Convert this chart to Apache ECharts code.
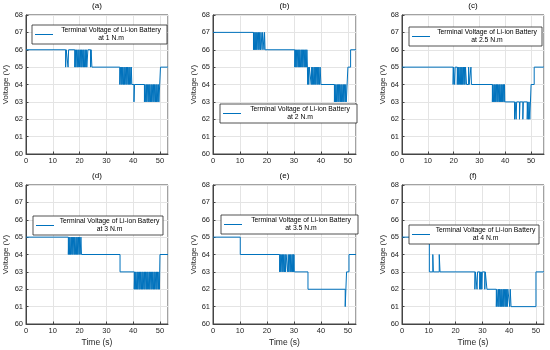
<!DOCTYPE html>
<html>
<head>
<meta charset="utf-8">
<script src="https://cdn.jsdelivr.net/npm/echarts@6/dist/echarts.min.js"></script>
<style>html,body{margin:0;padding:0;background:#fff}#c{width:550px;height:350px}</style>
</head>
<body>
<div id="c"></div>
<script>
// [time (s), voltage (V)] change points, value held until next point
const panelA = [[0,66],[14.8,65],[15.0,66],[15.7,65],[15.9,66],
 [18.2,65],[18.4,66],[18.6,65],[18.9,66],[19.1,65],[19.4,66],[19.5,65],[19.8,66],[20.0,65],[20.3,66],[20.5,65],[20.7,66],[20.9,65],[21.2,66],[21.4,65],[21.6,66],[21.8,65],[22.1,66],[22.3,65],[22.5,66],[22.7,65],[23.1,66],
 [24.1,65],[24.3,66],[24.6,65],
 [35.0,64],[35.2,65],[35.5,64],[35.7,65],[35.9,64],[36.1,65],[36.4,64],[36.6,65],[36.8,64],[37.0,65],[37.3,64],[37.5,65],[37.7,64],[37.9,65],[38.2,64],[38.4,65],[38.6,64],[38.8,65],[39.1,64],[39.3,65],[39.5,64],
 [40.3,63],[40.5,64],
 [44.2,63],[44.4,64],[44.7,63],[44.9,64],[45.1,63],[45.3,64],[45.6,63],[45.8,64],[46.0,63],[46.2,64],[46.5,63],[46.7,64],[46.9,63],[47.1,64],[47.4,63],[47.6,64],[47.8,63],[48.0,64],[48.3,63],[48.5,64],[48.7,63],[48.9,64],[49.2,63],[49.4,64],[49.6,63],
 [50.2,65],[53,65]];
const panelB = [[0,67],[15.0,66],[15.2,67],[15.4,66],[15.6,67],[15.8,66],[16.0,67],[16.2,66],[16.4,67],[16.7,66],[16.9,67],[17.1,66],[17.3,67],[17.6,66],[17.8,67],[18.2,66],[18.4,67],[18.9,66],[19.1,67],[19.3,66],
 [30.3,65],[30.5,66],[30.7,65],[30.9,66],[31.1,65],[31.4,66],[31.6,65],[31.8,66],[32.0,65],[32.2,66],[32.4,65],[32.7,66],[32.9,65],[33.1,66],[33.3,65],[33.5,66],[33.8,65],[34.0,66],[34.2,65],[34.4,66],[34.6,65],[34.8,66],[35.0,65],
 [35.1,64],[35.3,65],[35.5,64],[35.7,65],
 [36.4,64],[36.6,65],[36.8,64],[37.0,65],[37.2,64],[37.5,65],[37.7,64],[37.9,65],[38.1,64],[38.3,65],[38.6,64],[38.8,65],[39.0,64],[39.2,65],[39.5,64],[39.7,65],[40.0,64],
 [45.0,63],[45.2,64],[45.4,63],[45.6,64],[45.8,63],[46.1,64],[46.3,63],[46.5,64],[46.7,63],[46.9,64],[47.2,63],[47.4,64],[47.6,63],[47.8,64],[48.1,63],[48.3,64],[48.5,63],[48.7,64],[49.0,63],[49.2,64],[49.4,63],
 [50.0,65],[51.0,66],[53,66]];
const panelC = [[0,65],[19.8,64],[20.0,65],[20.4,64],[20.6,65],
 [21.4,64],[21.6,65],[21.8,64],[22.0,65],[22.2,64],[22.5,65],[22.7,64],[22.9,65],[23.1,64],[23.3,65],[23.5,64],[23.8,65],[24.0,64],[24.2,65],[24.4,64],[24.6,65],[25.0,64],
 [25.8,65],[26.0,64],[26.7,65],[26.9,64],
 [35.0,63],[35.2,64],[35.4,63],[35.7,64],[35.9,63],[36.1,64],[36.3,63],[36.6,64],[36.8,63],[37.0,64],[37.2,63],[37.5,64],[37.7,63],[37.9,64],[38.1,63],[38.4,64],[38.6,63],[38.8,64],[39.0,63],[39.3,64],[39.5,63],[39.7,64],[39.8,63],
 [43.6,62],[43.8,63],[44.2,62],[44.4,63],[45.5,62],[45.7,63],[46.8,62],[47.0,63],
 [48.5,62],[48.7,63],[49.0,62],[49.2,63],[49.5,62],
 [50.0,64],[51.2,65],[55,65]];
const panelD = [[0,65],[15.8,64],[16.0,65],[16.2,64],[16.4,65],[16.6,64],[16.9,65],[17.1,64],[17.3,65],[17.5,64],[17.8,65],[18.0,64],[18.2,65],[18.4,64],[18.7,65],[18.9,64],[19.1,65],[19.3,64],[19.6,65],[19.8,64],[20.0,65],[20.2,64],[20.5,65],[20.7,64],
 [35.1,63],
 [40.4,62],[40.6,63],[40.8,62],[41.0,63],[41.3,62],[41.5,63],[41.7,62],[41.9,63],[42.2,62],[42.4,63],[42.6,62],[42.8,63],[43.1,62],[43.3,63],[43.5,62],[43.7,63],[44.0,62],[44.2,63],[44.4,62],[44.6,63],[44.9,62],[45.1,63],[45.3,62],[45.5,63],[45.8,62],[46.0,63],[46.2,62],[46.4,63],[46.7,62],[46.9,63],[47.1,62],[47.3,63],[47.6,62],[47.8,63],[48.0,62],[48.2,63],[48.5,62],[48.7,63],[48.9,62],[49.1,63],[49.4,62],[49.6,63],[49.8,62],
 [50.0,64],[53,64]];
const panelE = [[0,65],[10.1,64],
 [24.7,63],[24.9,64],[25.1,63],[25.3,64],[25.6,63],[25.8,64],[26.0,63],[26.2,64],[26.5,63],[26.7,64],[26.9,63],[27.1,64],
 [27.7,63],[27.9,64],[28.1,63],[28.4,64],[28.6,63],[28.8,64],[29.0,63],[29.3,64],[29.5,63],[29.7,64],[29.9,63],[30.0,64],[30.1,63],
 [35.2,62],[49.0,61],[49.5,63],[50.4,64],[53,64]];
const panelF = [[0,65],[10.2,63],[11.5,64],[11.7,63],[13.9,64],[14.2,63],
 [27.2,62],[27.4,63],[28.0,62],[28.2,63],[29.0,62],[29.2,63],[29.4,62],[29.6,63],[29.8,62],[30.0,63],[30.9,62],[31.1,63],[31.7,62],
 [35.2,61],[35.4,62],[35.8,61],[36.0,62],[36.2,61],[36.4,62],[36.7,61],[36.9,62],[37.1,61],[37.3,62],[37.6,61],[37.8,62],[38.0,61],[38.2,62],[38.5,61],[38.7,62],[38.9,61],[39.1,62],[39.3,61],[39.5,62],[40.2,61],[40.4,62],[40.7,61],
 [50.0,63],[53,63]];

const panels = [panelA, panelB, panelC, panelD, panelE, panelF];
const panelTitles = ['(a)','(b)','(c)','(d)','(e)','(f)'];
const torques = ['1','2','2.5','3','3.5','4'];
const xMaxes = [53, 53, 55, 53, 53, 53];
const yTicks = [60, 68, 1];
const xInterval = 10;

const FONT = 'Liberation Sans, Arial, Helvetica, sans-serif';
const grids = [
  {left:26, top:15, width:142, height:139},
  {left:213, top:15, width:143, height:139},
  {left:402, top:15, width:142, height:139},
  {left:26, top:185, width:142, height:139},
  {left:213, top:185, width:143, height:139},
  {left:402, top:185, width:142, height:139}
];
const legendPos = [
  {left:32, top:25, w:106},
  {left:220, top:104, w:108},
  {left:409, top:27, w:104},
  {left:33, top:216, w:101},
  {left:221, top:215, w:108},
  {left:409, top:225, w:101}
];
const yNameGap = [16, 14, 15, 16, 14, 15];
const LABEL = 'Terminal Voltage of Li-ion Battery';

const option = {
  animation: false,
  backgroundColor: '#fff',
  title: grids.map((g, i) => ({
    text: panelTitles[i],
    left: g.left + g.width / 2,
    top: g.top - 13,
    padding: 0,
    textAlign: 'center',
    textStyle: {fontSize: 8, fontWeight: 'normal', color: '#000', fontFamily: FONT}
  })),
  grid: grids.map(g => Object.assign({show: true, borderColor: '#444', borderWidth: 1, backgroundColor: '#fff', containLabel: false}, g)),
  xAxis: grids.map((g, i) => ({
    type: 'value', gridIndex: i, min: 0, max: xMaxes[i], interval: xInterval,
    name: i >= 3 ? 'Time (s)' : '', nameLocation: 'middle', nameGap: 14,
    nameTextStyle: {fontSize: 8.5, color: '#262626', fontFamily: FONT},
    axisLine: {show: true, lineStyle: {color: '#444', width: 1}},
    axisTick: {show: true, inside: true, length: 2.5, lineStyle: {color: '#444'}},
    axisLabel: {fontSize: 7.5, color: '#262626', fontFamily: FONT, margin: 3, showMaxLabel: false},
    splitLine: {show: true, lineStyle: {color: '#e4e4e4', width: 1}}
  })),
  yAxis: grids.map((g, i) => ({
    type: 'value', gridIndex: i, min: yTicks[0], max: yTicks[1], interval: yTicks[2],
    name: 'Voltage (V)', nameLocation: 'middle', nameGap: yNameGap[i],
    nameTextStyle: {fontSize: 8, color: '#262626', fontFamily: FONT},
    axisLine: {show: true, lineStyle: {color: '#444', width: 1}},
    axisTick: {show: true, inside: true, length: 2.5, lineStyle: {color: '#444'}},
    axisLabel: {fontSize: 7.5, color: '#262626', fontFamily: FONT, margin: 3},
    splitLine: {show: true, lineStyle: {color: '#e4e4e4', width: 1}}
  })),
  legend: legendPos.map((p, i) => ({
    data: [LABEL + ' at ' + torques[i] + ' N.m'],
    left: p.left, top: p.top, orient: 'vertical',
    backgroundColor: '#fff', borderColor: '#262626', borderWidth: 0.8, borderRadius: 0,
    padding: [2, 3, 2, 3], itemWidth: 18, itemHeight: 1, itemGap: 0, icon: 'rect',
    itemStyle: {color: '#0072BD', borderWidth: 0},
    selectedMode: false,
    formatter: () => '{c|' + LABEL + '}\n{c|at ' + torques[i] + ' N.m}',
    textStyle: {fontFamily: FONT, fontSize: 6.8, color: '#000',
      rich: {c: {width: p.w, align: 'center', fontSize: 6.8, lineHeight: 8, fontFamily: FONT, color: '#000'}}}
  })),
  series: panels.map((d, i) => ({
    type: 'line', name: LABEL + ' at ' + torques[i] + ' N.m',
    xAxisIndex: i, yAxisIndex: i, step: 'end', symbol: 'none', showSymbol: false,
    lineStyle: {color: '#0072BD', width: 1}, itemStyle: {color: '#0072BD'},
    data: d, silent: true
  }))
};
echarts.init(document.getElementById('c'), null, {renderer: 'canvas'}).setOption(option);
</script>
</body>
</html>
